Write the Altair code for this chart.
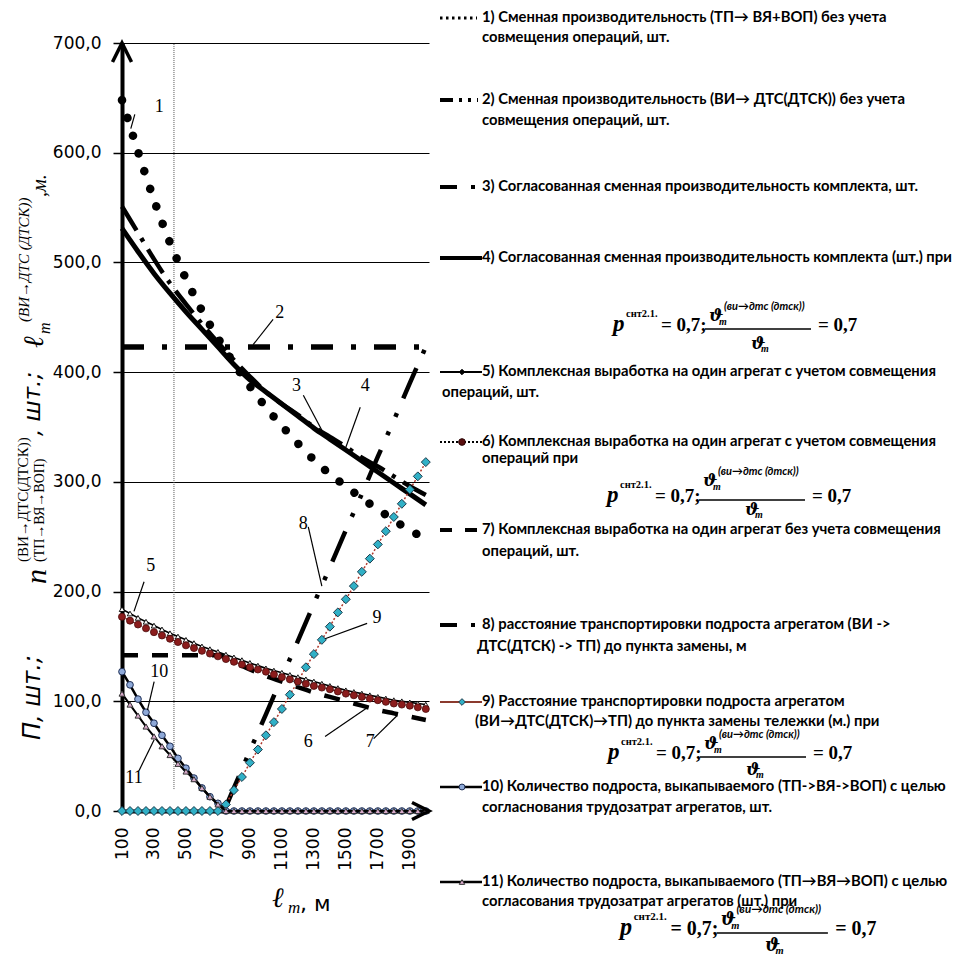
import altair as alt
import pandas as pd

# ---------------- data ----------------
X50 = [100, 150, 200, 250, 300, 350, 400, 450, 500, 550, 600, 650, 700, 750, 800, 850, 900, 950,
       1000, 1050, 1100, 1150, 1200, 1250, 1300, 1350, 1400, 1450, 1500, 1550, 1600, 1650, 1700,
       1750, 1800, 1850, 1900, 1950, 2000]
X100 = [100, 200, 300, 400, 500, 600, 700, 800, 900, 1000, 1100, 1200, 1300, 1400, 1500, 1600,
        1700, 1800, 1900, 2000]
X2 = [100, 2000]
X8 = [750, 800, 900, 1000, 1100, 1200, 1300, 1400, 1500, 1600, 1700, 1800, 1900, 2000]

S1 = [648, 601, 557, 518, 485, 456, 431, 408, 387, 368, 351, 335, 320, 307, 296, 285, 275, 265, 256, 248]
S2 = [423, 423]
S3 = [551, 527, 503, 481, 462, 444, 427, 411, 396, 382, 371, 361, 350, 341, 332, 322, 314, 305, 296, 288]
S4 = [531, 510, 490, 472, 455, 439, 423, 407, 393, 382, 371, 360, 349, 339, 329, 319, 309, 299, 289, 279]
S5 = [184, 180, 176, 172.5, 169, 165.5, 162, 159, 156, 153, 150, 147.5, 145, 142.5, 140, 137.5, 135,
      132.5, 130, 128, 126, 124, 122, 120, 118, 116, 114, 112, 110, 108.5, 107, 105.5, 104, 102.5,
      101, 100, 99, 98, 97]
S6 = [177, 173.5, 170, 166.5, 163, 160, 157, 154, 151, 148.5, 146, 143.5, 141, 138.5, 136, 133.5, 131,
      129, 127, 124.5, 122, 120, 118, 116, 114, 112.5, 111, 109, 107, 105.5, 104, 102.5, 101, 99.5,
      98, 97, 96, 94.5, 93]
S7 = [142, 142, 142, 142, 142, 142, 142, 136, 129, 123, 118, 113, 108, 104, 100, 96, 92, 89, 86, 83]
S8 = [4, 21, 55, 88, 122, 155, 189, 222, 256, 289, 323, 356, 390, 423]
S9 = [0, 0, 0, 0, 0, 0, 0, 0, 0, 0, 0, 0, 0, 6, 19, 31, 44, 56, 69, 81, 93, 106, 118, 131, 143, 156,
      168, 181, 193, 205, 218, 230, 243, 255, 268, 280, 293, 305, 318]
S10 = [127, 115, 102, 90, 80, 69, 59, 48, 39, 30, 21, 13, 7, 0, 0, 0, 0, 0, 0, 0, 0, 0, 0, 0, 0, 0,
       0, 0, 0, 0, 0, 0, 0, 0, 0, 0, 0, 0, 0]
S11 = [107, 97, 87, 77, 68, 59, 51, 43, 36, 29, 21, 13, 6, 0, 0, 0, 0, 0, 0, 0, 0, 0, 0, 0, 0, 0,
       0, 0, 0, 0, 0, 0, 0, 0, 0, 0, 0, 0, 0]

X_TICKS = [100, 300, 500, 700, 900, 1100, 1300, 1500, 1700, 1900]
Y_TICKS = [0, 100, 200, 300, 400, 500, 600, 700]

ANN_LABELS = ["1", "2", "3", "4", "5", "6", "7", "8", "9", "10", "11"]
ANN_X = [333, 1087, 1192, 1622, 280, 1265, 1653, 1234, 1695, 333, 175]
ANN_Y = [642, 454, 387, 387, 223, 63, 63, 262, 176, 127, 30]
LEAD_X = [180, 1045, 1234, 1590, 238, 1370, 1674, 1265, 1633, 301, 207]
LEAD_Y = [635, 448, 379, 368, 209, 68, 66, 259, 171, 118, 37]
LEAD_X2 = [155, 920, 1350, 1496, 175, 1633, 1821, 1350, 1370, 259, 301]
LEAD_Y2 = [622, 425, 347, 330, 182, 94, 87, 205, 157, 92, 65]

LEGEND = [
    ["1) Сменная производительность (ТП→ ВЯ+ВОП) без учета", "совмещения операций, шт."],
    ["2) Сменная производительность (ВИ→ ДТС(ДТСК)) без учета", "совмещения операций, шт."],
    ["3) Согласованная сменная производительность комплекта, шт."],
    ["4) Согласованная сменная производительность комплекта (шт.) при"],
    ["5) Комплексная выработка на один агрегат с учетом совмещения", "операций, шт."],
    ["6) Комплексная выработка на один агрегат с учетом совмещения", "операций при"],
    ["7) Комплексная выработка на один агрегат без учета совмещения", "операций, шт."],
    ["8) расстояние транспортировки подроста агрегатом (ВИ ->", "ДТС(ДТСК) -> ТП) до пункта замены, м"],
    ["9) Расстояние транспортировки подроста агрегатом", "(ВИ→ДТС(ДТСК)→ТП) до пункта замены тележки (м.) при"],
    ["10) Количество подроста, выкапываемого (ТП->ВЯ->ВОП) с целью", "согласнования трудозатрат агрегатов, шт."],
    ["11) Количество подроста, выкапываемого (ТП→ВЯ→ВОП) с целью", "согласования трудозатрат агрегатов (шт.) при"],
]

# ---------------- layout helpers ----------------
OX, OY = 122, 43          # page position of the plot origin
ONE = pd.DataFrame({"k": [0]})

XS = alt.Scale(domain=[100, 2020], nice=False, zero=False)
YS = alt.Scale(domain=[0, 700], nice=False, zero=False)
XAX = alt.Axis(values=X_TICKS, format="d", labelAngle=270, labelFont="DejaVu Sans", labelFontSize=17,
               labelColor="black", domainColor="black", domainWidth=4, ticks=False,
               labelPadding=16, grid=False, title=None, labelFlush=False, labelOverlap=False)
YAX = alt.Axis(values=Y_TICKS, labelExpr="replace(format(datum.value, '.1f'), '.', ',')",
               labelFont="DejaVu Sans", labelFontSize=17, labelColor="black",
               domainColor="black", domainWidth=4, tickColor="black", tickSize=9, tickWidth=1.5,
               labelPadding=12, grid=True, gridColor="black", gridWidth=1, gridOpacity=1,
               title=None, labelFlush=False)
XE = alt.X("x:Q", scale=XS, axis=XAX)
YE = alt.Y("y:Q", scale=YS, axis=YAX)


def line(xs, ys, width, dash=None, color="black", cap="butt", interp="monotone"):
    kw = dict(strokeWidth=width, color=color, strokeCap=cap, interpolate=interp)
    if dash:
        kw["strokeDash"] = dash
    return alt.Chart(pd.DataFrame({"x": xs, "y": ys})).mark_line(**kw).encode(x=XE, y=YE)


def pts(xs, ys, shape, size, fill, stroke, sw=1.0):
    return alt.Chart(pd.DataFrame({"x": xs, "y": ys})).mark_point(
        shape=shape, size=size, filled=True, fill=fill, stroke=stroke, strokeWidth=sw,
        opacity=1).encode(x=XE, y=YE)


def T(s, px, py, size, font="Lato", weight="normal", style="normal", align="left",
      baseline="middle", angle=0, color="black"):
    return alt.Chart(ONE).mark_text(font=font, fontSize=size, fontWeight=weight, fontStyle=style,
                                    align=align, baseline=baseline, angle=angle, color=color).encode(
        x=alt.value(px - OX), y=alt.value(py - OY), text=alt.value(s))


def R(x1, x2, py, width, dash=None, color="black", cap="butt"):
    kw = dict(strokeWidth=width, color=color, strokeCap=cap)
    if dash:
        kw["strokeDash"] = dash
    return alt.Chart(ONE).mark_rule(**kw).encode(
        x=alt.value(x1 - OX), x2=alt.value(x2 - OX), y=alt.value(py - OY))


def M(px, py, shape, size, fill, stroke, sw=1.0):
    return alt.Chart(ONE).mark_point(shape=shape, size=size, filled=True, fill=fill, stroke=stroke,
                                     strokeWidth=sw, opacity=1).encode(
        x=alt.value(px - OX), y=alt.value(py - OY))


def formula(x0, yc, k=1.0, dn=19, up=0):
    f = "Liberation Serif"
    g = "DejaVu Serif"
    out = [
        T("p", x0, yc - 1, 23 * k, font=f, weight="bold", style="italic"),
        T("снт2.1.", x0 + 13 * k, yc - 11 * k, 10.5 * k, font=f, weight="bold"),
        T("= 0,7;", x0 + 48 * k, yc, 19 * k, font=f, weight="bold"),
        R(x0 + 92 * k, x0 + 198 * k, yc + 4, 1.4),
        T("ϑ", x0 + 96 * k, yc - 9 * k - up, 17 * k, font=g, weight="bold", style="italic"),
        T("m", x0 + 106 * k, yc - 3 * k - up, 10 * k, font=f, weight="bold", style="italic"),
        T("(ви→дтс (дтск))", x0 + 111 * k, yc - 18 * k - up, 11 * k, font="Lato", weight="bold",
          style="italic"),
        T("ϑ", x0 + 138 * k, yc + dn, 17 * k, font=g, weight="bold", style="italic"),
        T("m", x0 + 148 * k, yc + dn + 5, 10 * k, font=f, weight="bold", style="italic"),
        T("= 0,7", x0 + 205 * k, yc, 19 * k, font=f, weight="bold"),
    ]
    return out


layers = []

# vertical dotted reference line
layers.append(alt.Chart(pd.DataFrame({"x": [425], "y": [20], "y2": [700]})).mark_rule(
    color="#555", strokeWidth=1, strokeDash=[1, 1]).encode(x=XE, y=YE, y2="y2:Q"))

# series lines (thick black ones)
layers.append(line(X2, S2, 5.5, dash=[22, 18, 5, 18], interp="linear"))
layers.append(line(X8, S8, 4.5, dash=[33, 16, 4, 16, 4, 16], interp="linear"))
layers.append(line(X100, S7, 4.5, dash=[16, 14]))
layers.append(line(X100, S1, 8.5, dash=[0.1, 18.5], cap="round"))
layers.append(line(X100, S4, 5))
layers.append(line(X100, S3, 4.5, dash=[28, 9, 4, 9]))

# series with markers
layers.append(line(X50, S9, 1.5, dash=[2, 2], color="#b03a2e", interp="linear"))
layers.append(pts(X50, S9, "diamond", 80, "#31b0c6", "#1b3b4b", 1))
layers.append(line(X50, S5, 1.6, interp="linear"))
layers.append(pts(X50, S5, "triangle-up", 30, "white", "black", 0.9))
layers.append(line(X50, S6, 1.2, dash=[2, 2], color="#5a0f0f", interp="linear"))
layers.append(pts(X50, S6, "circle", 50, "#8b1c1c", "#4a0a0a", 0.8))
layers.append(line(X50, S10, 2.5, interp="linear"))
layers.append(pts(X50, S10, "circle", 45, "#8ea9d8", "#1f2f55", 1))
layers.append(line(X50, S11, 2, interp="linear"))
layers.append(pts(X50, S11, "triangle-up", 35, "#d7a9c9", "#333333", 1))

# axis arrows
layers.append(alt.Chart(pd.DataFrame({"x": [100], "y": [700]})).mark_point(
    shape="M-0.5,1L0,0L0.5,1", size=1444, filled=False, stroke="black", strokeWidth=3.5,
    opacity=1).encode(x=XE, y=YE))
layers.append(alt.Chart(pd.DataFrame({"x": [2020], "y": [0]})).mark_point(
    shape="M-1,-0.5L0,0L-1,0.5", size=1156, filled=False, stroke="black", strokeWidth=3.5,
    opacity=1).encode(x=XE, y=YE))

# annotations
layers.append(alt.Chart(pd.DataFrame({"x": LEAD_X, "y": LEAD_Y, "x2": LEAD_X2, "y2": LEAD_Y2})).mark_rule(
    color="black", strokeWidth=1.2).encode(x=XE, y=YE, x2="x2:Q", y2="y2:Q"))
layers.append(alt.Chart(pd.DataFrame({"x": ANN_X, "y": ANN_Y, "t": ANN_LABELS})).mark_text(
    font="Liberation Serif", fontSize=18, color="black").encode(x=XE, y=YE, text="t:N"))

# y axis title (rotated pieces)
layers += [
    T("П, шт.;", 33, 740, 24, font="DejaVu Sans", style="italic", angle=270),
    T("n", 37, 584, 30, font="Liberation Serif", style="italic", angle=270),
    T("(ВИ→ДТС(ДТСК))", 23, 562, 15, font="Liberation Serif", angle=270),
    T("(ТП→ВЯ→ВОП)", 40, 562, 14, font="Liberation Serif", angle=270),
    T(", шт.;", 33, 436, 23, font="DejaVu Sans", style="italic", angle=270),
    T("ℓ", 35, 348, 28, font="DejaVu Serif", style="italic", angle=270),
    T("m", 45, 334, 16, font="Liberation Serif", style="italic", angle=270),
    T("(ВИ→ДТС (ДТСК))", 24, 322, 15, font="Liberation Serif", style="italic", angle=270),
    T(",м.", 40, 197, 20, font="Liberation Serif", style="italic", angle=270),
]

# x axis title
layers += [
    T("ℓ", 272, 899, 28, font="DejaVu Serif", style="italic"),
    T("m", 288, 908, 17, font="Liberation Serif", style="italic"),
    T(", м", 300, 904, 22, font="DejaVu Sans"),
]

# legend
LY1 = [18, 100, 187, 258, 372, 442, 530, 625, 702, 787, 882]
LY2 = [38, 121, None, None, 393, 459, 552, 647, 722, 808, 902]
LX2 = [482, 482, None, None, 442, 482, 482, 477, 475, 482, 482]
for i, lines in enumerate(LEGEND):
    layers.append(T(lines[0], 482, LY1[i], 14.8, weight="bold"))
    if len(lines) > 1:
        layers.append(T(lines[1], LX2[i], LY2[i], 14.8, weight="bold"))

layers += [
    R(440, 477, 18, 3, dash=[2.5, 3.5]),
    R(440, 478, 100, 4, dash=[13, 6, 3, 6, 3, 6]),
    R(440, 478, 187, 4, dash=[17, 14, 4, 10]),
    R(440, 482, 258, 4),
    R(440, 482, 372, 2),
    M(462, 372, "diamond", 30, "black", "black"),
    R(440, 482, 442, 2, dash=[2, 2]),
    M(462, 442, "circle", 45, "#5a0f0f", "#2a0505"),
    R(440, 478, 530, 4, dash=[12, 13]),
    R(440, 478, 625, 4, dash=[17, 14, 4, 10]),
    R(440, 482, 702, 2, color="#8b3a2e"),
    M(462, 702, "diamond", 45, "#31b0c6", "#1b3b4b"),
    R(440, 482, 787, 2.5),
    M(462, 787, "circle", 35, "#8ea9d8", "#1f2f55"),
    R(440, 482, 882, 2.5),
    M(462, 882, "triangle-up", 30, "#d7a9c9", "#333333"),
]

layers += formula(613, 325)
layers += formula(607, 496, dn=14, up=6)
layers += formula(608, 753, dn=17)
layers += formula(620, 929, 1.05, dn=17)

chart = alt.layer(*layers).properties(
    width=307, height=768,
    padding={"left": 114, "top": 35, "right": 529, "bottom": 147},
    autosize=alt.AutoSizeParams(type="none"),
    background="white",
).configure_view(stroke=None)

chart.save("out.html", embed_options={"renderer": "svg", "actions": False})
